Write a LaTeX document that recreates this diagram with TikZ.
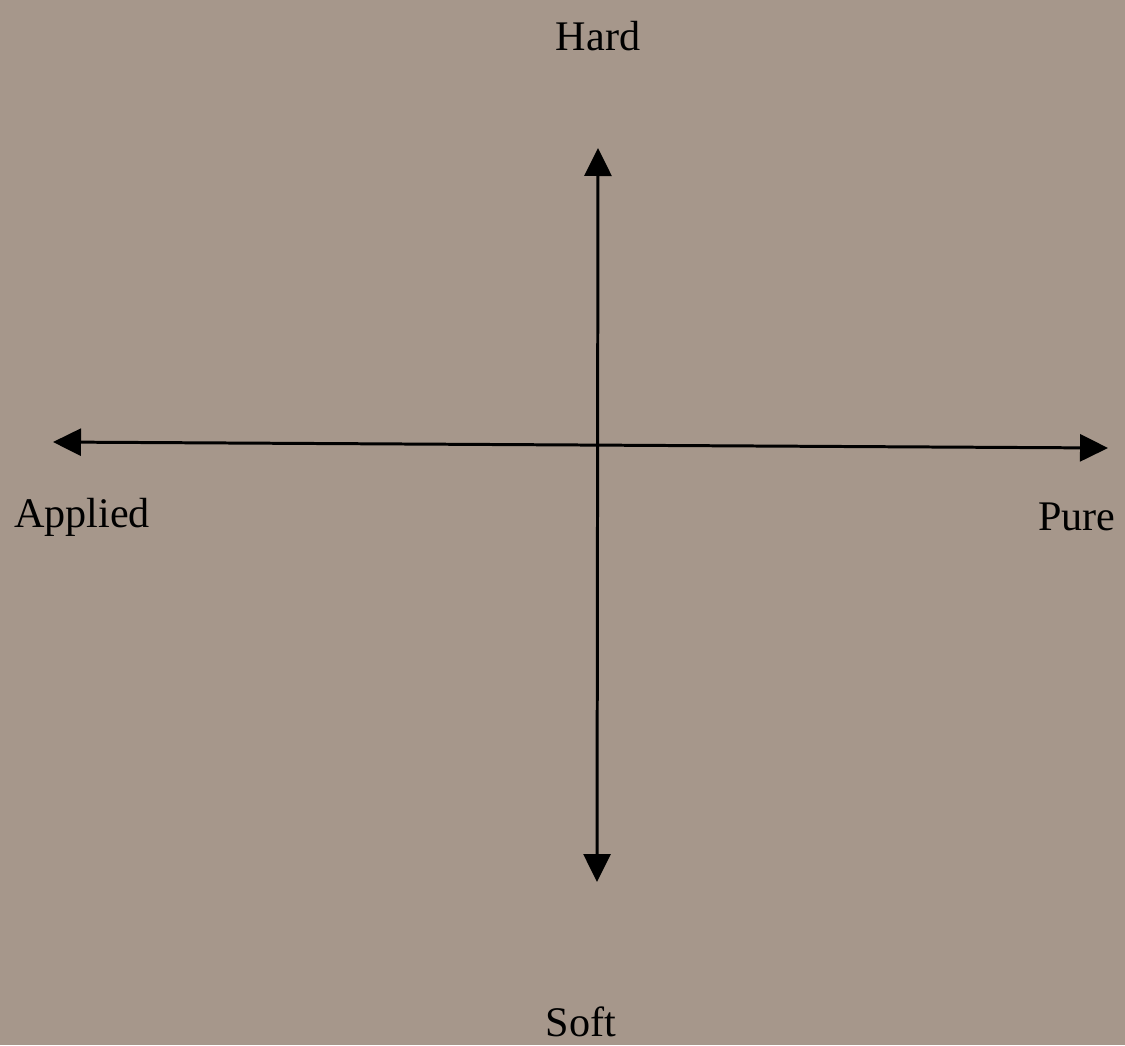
\documentclass[tikz,border=0pt]{standalone}
\usepackage{fontspec}
\setmainfont{Liberation Serif}
\usetikzlibrary{arrows.meta}
\definecolor{paper}{RGB}{166,151,139}
\begin{document}
\begin{tikzpicture}[x=0.02cm, y=-0.02cm,
    axis/.style={line width=1.7pt, {Triangle[length=0.56cm, width=0.54cm]}-{Triangle[length=0.56cm, width=0.54cm]}},
    lab/.style={anchor=base, inner sep=0pt, font=\fontsize{24}{28}\selectfont}]
\fill[paper] (0,0) rectangle (1125,1045);
\useasboundingbox (0,0) rectangle (1125,1045);
\coordinate (top) at (598,148);
\coordinate (bottom) at (597,882);
\coordinate (left) at (53,442);
\coordinate (right) at (1108,448);
\draw[axis] (top) -- (bottom);
\draw[axis] (left) -- (right);
\node[lab] (hard) at (598,50) {Hard};
\node[lab] (soft) at (581,1036) {Soft};
\node[lab] (applied) at (82,527) {Applied};
\node[lab] (pure) at (1077,530) {Pure};
\end{tikzpicture}
\end{document}
